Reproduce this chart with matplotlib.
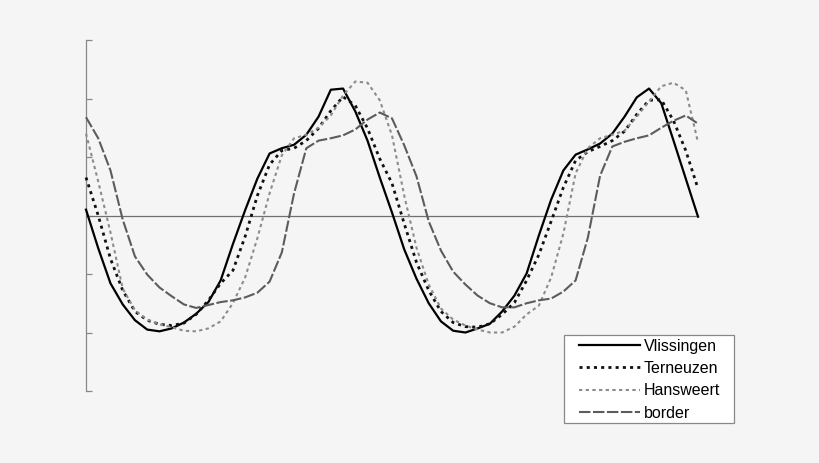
import matplotlib
matplotlib.use("Agg")
import matplotlib.pyplot as plt
from matplotlib.patches import Rectangle

# time axis (hours, half-hour steps over ~two tidal cycles)
hours = [i * 0.5 for i in range(51)]

vlissingen = [0.10, -0.56, -1.16, -1.52, -1.79, -1.95, -1.98, -1.93, -1.83, -1.68,
              -1.48, -1.11, -0.49, 0.09, 0.63, 1.06, 1.15, 1.21, 1.38, 1.69,
              2.15, 2.17, 1.78, 1.28, 0.65, 0.05, -0.58, -1.08, -1.50, -1.81,
              -1.97, -2.00, -1.93, -1.85, -1.64, -1.37, -0.99, -0.34, 0.27, 0.77,
              1.04, 1.13, 1.23, 1.40, 1.69, 2.02, 2.17, 1.92, 1.28, 0.63, -0.02]

terneuzen = [0.65, 0.00, -0.74, -1.28, -1.64, -1.79, -1.86, -1.88, -1.84, -1.69,
             -1.45, -1.16, -0.94, -0.36, 0.34, 0.87, 1.11, 1.15, 1.28, 1.49,
             1.79, 2.03, 1.88, 1.49, 0.97, 0.55, -0.14, -0.80, -1.28, -1.64,
             -1.83, -1.90, -1.91, -1.85, -1.69, -1.49, -1.11, -0.67, -0.10, 0.48,
             0.94, 1.09, 1.18, 1.28, 1.44, 1.73, 1.97, 1.98, 1.62, 1.11, 0.46]

hansweert = [1.40, 0.58, -0.29, -1.25, -1.62, -1.78, -1.86, -1.91, -1.97, -1.98,
             -1.93, -1.81, -1.50, -1.06, -0.39, 0.38, 1.03, 1.32, 1.38, 1.50,
             1.71, 2.05, 2.29, 2.27, 1.97, 1.37, 0.34, -0.55, -1.18, -1.59,
             -1.78, -1.88, -1.95, -2.00, -2.00, -1.90, -1.69, -1.54, -1.06, -0.31,
             0.72, 1.15, 1.32, 1.38, 1.45, 1.69, 1.95, 2.21, 2.27, 2.14, 1.25]

border = [1.68, 1.32, 0.77, -0.07, -0.70, -1.01, -1.23, -1.38, -1.52, -1.58,
          -1.53, -1.48, -1.45, -1.40, -1.32, -1.13, -0.63, 0.38, 1.15, 1.28,
          1.32, 1.37, 1.47, 1.64, 1.76, 1.66, 1.20, 0.67, -0.10, -0.60,
          -0.96, -1.18, -1.37, -1.50, -1.57, -1.57, -1.50, -1.45, -1.42, -1.30,
          -1.11, -0.38, 0.68, 1.18, 1.26, 1.32, 1.37, 1.50, 1.62, 1.71, 1.57]

series_names = ["Vlissingen", "Terneuzen", "Hansweert", "border"]
y_ticks = [-3, -2, -1, 0, 1, 2, 3]

plt.rcParams['font.family'] = ['Liberation Sans', 'DejaVu Sans']

W, H = 820, 463
BG = '#f5f5f5'
fig = plt.figure(figsize=(W / 100, H / 100), dpi=100, facecolor=BG)
ax = fig.add_axes([86 / W, 1 - 391 / H, (698 - 86) / W, (391 - 40) / H])
ax.set_facecolor('none')

ax.set_xlim(hours[0], hours[-1])
ax.set_ylim(-3, 3)

for s in ['top', 'right']:
    ax.spines[s].set_visible(False)
ax.spines['left'].set_color('#888888')
ax.spines['left'].set_linewidth(0.9)
ax.spines['bottom'].set_position(('data', 0))
ax.spines['bottom'].set_color('#707070')
ax.spines['bottom'].set_linewidth(0.9)

ax.set_yticks(y_ticks)
ax.set_yticklabels([])
ax.tick_params(axis='y', direction='in', length=4, width=0.9, color='#888888')
ax.set_xticks([])

styles = [
    dict(color='#000000', lw=1.6, ls='-'),
    dict(color='#111111', lw=2.0, ls=(0, (1.1, 1.5))),
    dict(color='#8c8c8c', lw=1.5, ls=(0, (1.6, 1.6))),
    dict(color='#5c5c5c', lw=1.5, ls=(0, (5.5, 1.2))),
]
data = [vlissingen, terneuzen, hansweert, border]
handles = []
for name, vals, st in zip(series_names, data, styles):
    ln, = ax.plot(hours, vals, color=st['color'], lw=st['lw'], linestyle=st['ls'],
                  label=name, zorder=3, clip_on=False, solid_joinstyle='round',
                  dash_joinstyle='round')
    handles.append(ln)

# legend box
box = Rectangle((564 / W, 1 - 423 / H), (734 - 564) / W, (423 - 335) / H,
                transform=fig.transFigure, facecolor='white', edgecolor='#888888',
                lw=0.9, zorder=4)
fig.patches.append(box)
leg = fig.legend(handles=handles, labels=series_names, loc='upper left',
                 bbox_to_anchor=(579 / W, 1 - 338.5 / H), frameon=False,
                 fontsize=11.5, handlelength=3.8, handletextpad=0.25,
                 labelspacing=0.46, borderpad=0.0, borderaxespad=0.0)
leg.set_zorder(5)

fig.savefig('out.png', dpi=100, facecolor=BG)
